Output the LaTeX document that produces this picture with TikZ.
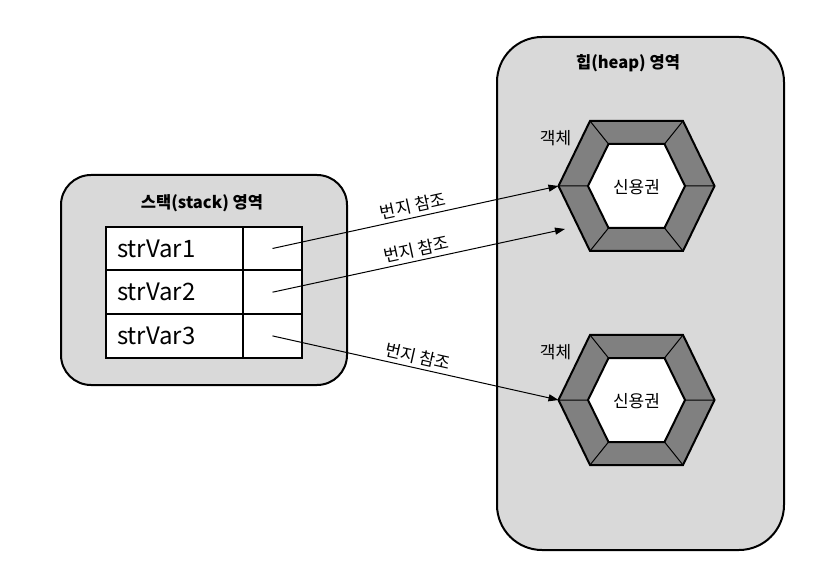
\documentclass[tikz,border=0pt]{standalone}
\usepackage{fontspec}
\setmainfont{Noto Sans CJK KR}
\usetikzlibrary{positioning,arrows.meta}
\definecolor{areagray}{HTML}{D9D9D9}
\definecolor{ringgray}{HTML}{808080}

\begin{document}
\begin{tikzpicture}[x=1pt,y=-1pt,
    region/.style={draw,line width=2pt,fill=areagray,rounded corners=#1},
    cell/.style={draw,line width=2pt,fill=white,minimum height=43.7pt,outer sep=0pt},
    varcell/.style={cell,inner xsep=11pt,text width=115pt,align=left,font=\fontsize{24}{28}\selectfont},
    ptrcell/.style={cell,minimum width=59pt},
    ref/.style={-{Triangle[length=10pt,width=7pt]},line width=1pt},
    lbl/.style={font=\fontsize{17}{20}\selectfont},
    ttl/.style={font=\fontsize{16.5}{20}\selectfont\bfseries},
    spoke/.style={line width=1pt}]
  \useasboundingbox (0,0) rectangle (814,585);
  % areas
  \node[region=30pt,minimum width=286pt,minimum height=210pt] (stack) at (204,280) {};
  \node[ttl] (stackt) at (202,203) {스택(stack) 영역};
  \node[region=45pt,minimum width=287pt,minimum height=513pt] (heap) at (640.5,293.5) {};
  \node[ttl] (heapt) at (628,63) {힙(heap) 영역};
  % stack table
  \node[varcell] (v1) at (174.5,248.5) {strVar1};
  \node[ptrcell] (p1) [right=0pt of v1] {};
  \node[varcell] (v2) [below=0pt of v1] {strVar2};
  \node[ptrcell] (p2) [right=0pt of v2] {};
  \node[varcell] (v3) [below=0pt of v2] {strVar3};
  \node[ptrcell] (p3) [right=0pt of v3] {};
  % objects
  \foreach \i/\cy in {1/186,2/400}{
    \begin{scope}[shift={(636.5,\cy)}]
      \fill[ringgray] (-78,0) -- (-46.5,-65) -- (46.5,-65) -- (78,0) -- (46.5,65) -- (-46.5,65) -- cycle;
      \draw[spoke] (-78,0) -- (-48.5,0) (-46.5,-65) -- (-28,-42) (46.5,-65) -- (28,-42)
        (78,0) -- (48.5,0) (46.5,65) -- (28,42) (-46.5,65) -- (-28,42);
      \draw[line width=2pt,fill=white] (-48.5,0) -- (-28,-42) -- (28,-42) -- (48.5,0) -- (28,42) -- (-28,42) -- cycle;
      \draw[line width=2pt] (-78,0) -- (-46.5,-65) -- (46.5,-65) -- (78,0) -- (46.5,65) -- (-46.5,65) -- cycle;
      \coordinate (o\i w) at (-78,0);
      \coordinate (o\i s) at (-71.5,43);
      \node[lbl] (c\i) at (0,1) {신용권};
      \node[lbl] (k\i) at (-81,-48) {객체};
    \end{scope}
  }
  % references
  \path[ref]
    (p1.center) edge node[lbl,sloped,above] {번지 참조} (o1w)
    (p2.center) edge node[lbl,sloped,above] {번지 참조} (o1s)
    (p3.center) edge node[lbl,sloped,above] {번지 참조} (o2w)
    ; %end path
\end{tikzpicture}
\end{document}
